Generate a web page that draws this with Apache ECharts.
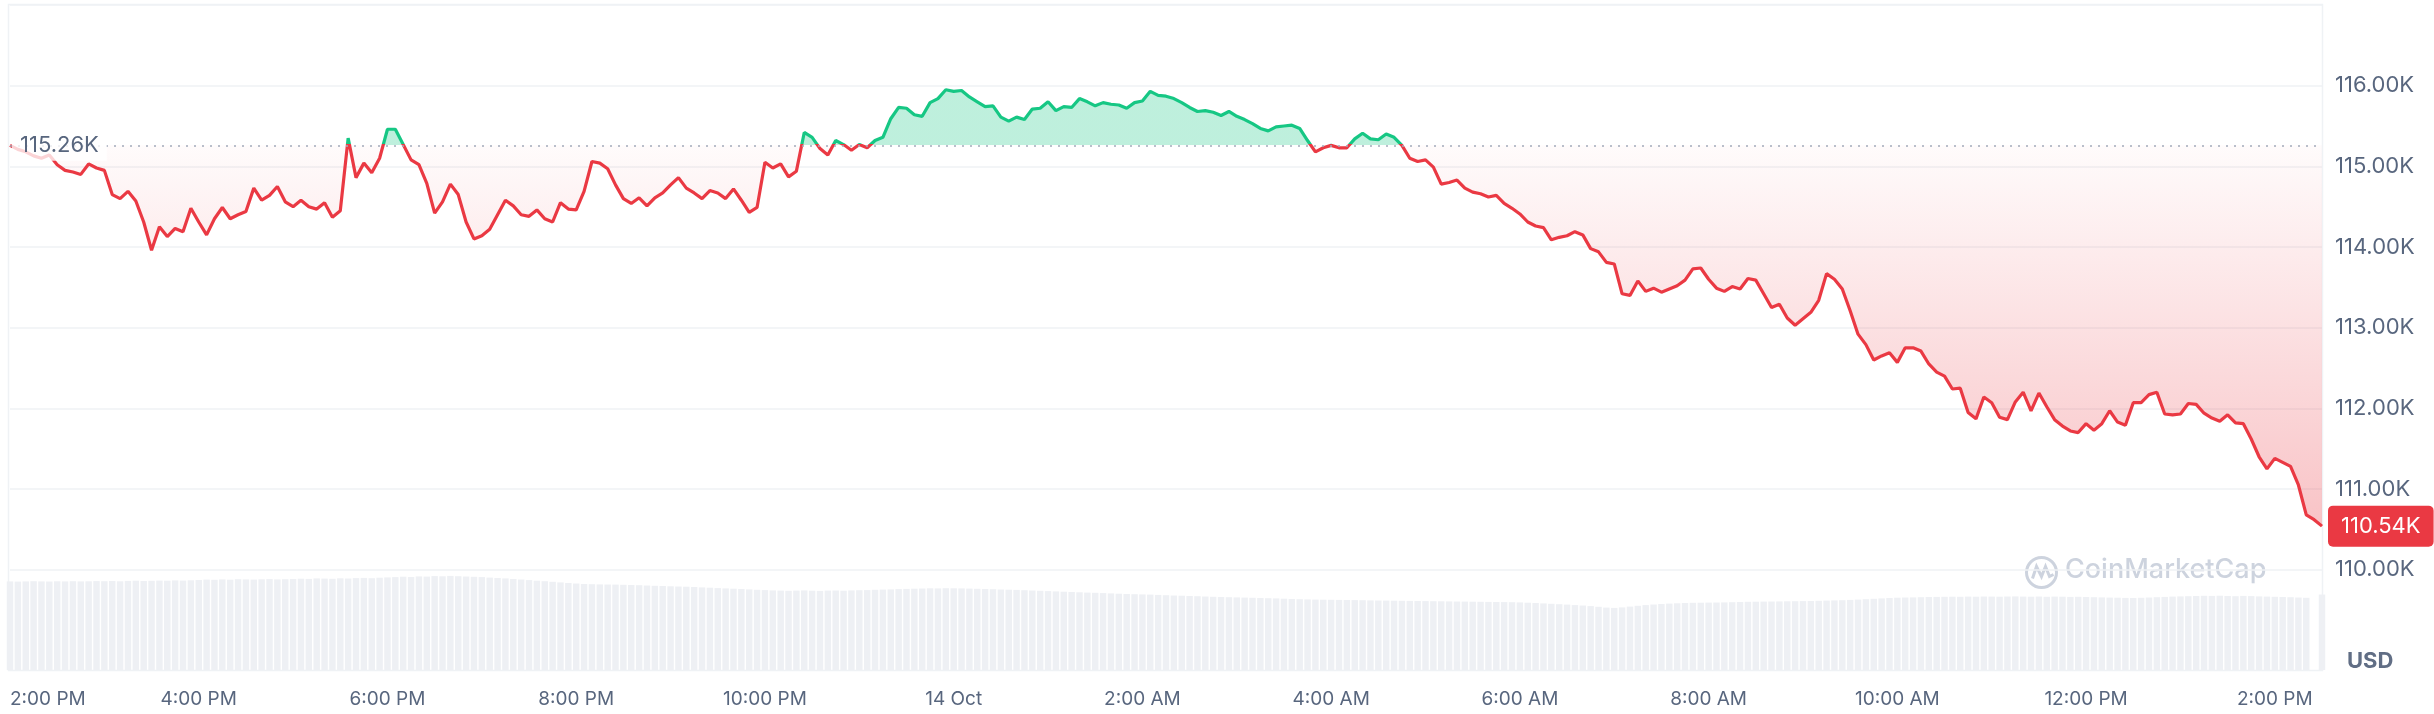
<!DOCTYPE html>
<html><head><meta charset="utf-8">
<script src="https://cdn.jsdelivr.net/npm/echarts@6/dist/echarts.min.js"></script>
<style>html,body{margin:0;padding:0;background:#fff;}#c{width:2434px;height:714px;}</style>
</head><body><div id="c"></div>
<script>
// ---- data (price in thousands USD, 5-minute steps from 13 Oct 2:00 PM) ----
const startHour = 14;          // 2:00 PM
const stepMinutes = 5;
const basePrice = 115.26;      // price 24h ago (reference line)
const tickLabels = ['2:00 PM','4:00 PM','6:00 PM','8:00 PM','10:00 PM','14 Oct','2:00 AM','4:00 AM','6:00 AM','8:00 AM','10:00 AM','12:00 PM','2:00 PM'];
const prices = [
115.26,115.21,115.18,115.13,115.10,115.14,115.02,114.95,114.93,114.90,
115.03,114.98,114.95,114.65,114.60,114.69,114.57,114.31,113.96,114.25,
114.13,114.23,114.19,114.48,114.31,114.15,114.35,114.49,114.35,114.40,
114.44,114.73,114.58,114.64,114.75,114.56,114.50,114.58,114.50,114.47,
114.55,114.37,114.45,115.35,114.86,115.04,114.92,115.10,115.46,115.46,
115.27,115.08,115.02,114.79,114.42,114.56,114.78,114.65,114.31,114.10,
114.14,114.22,114.40,114.58,114.51,114.40,114.38,114.46,114.35,114.31,
114.55,114.47,114.46,114.69,115.06,115.04,114.97,114.77,114.60,114.54,
114.61,114.51,114.61,114.67,114.77,114.86,114.73,114.67,114.60,114.70,
114.67,114.60,114.72,114.58,114.43,114.49,115.05,114.98,115.03,114.87,
114.94,115.42,115.36,115.22,115.14,115.32,115.27,115.20,115.27,115.23,
115.32,115.36,115.59,115.73,115.72,115.64,115.62,115.79,115.84,115.95,
115.93,115.94,115.86,115.80,115.74,115.75,115.61,115.56,115.61,115.58,
115.71,115.72,115.80,115.69,115.74,115.73,115.84,115.80,115.75,115.79,
115.77,115.76,115.72,115.79,115.81,115.93,115.88,115.87,115.84,115.79,
115.73,115.68,115.69,115.67,115.63,115.68,115.62,115.58,115.53,115.47,
115.44,115.49,115.50,115.51,115.47,115.32,115.18,115.23,115.26,115.23,
115.23,115.34,115.41,115.34,115.33,115.40,115.36,115.26,115.10,115.06,
115.08,114.99,114.78,114.80,114.83,114.73,114.68,114.66,114.62,114.64,
114.54,114.48,114.41,114.31,114.26,114.24,114.09,114.12,114.14,114.19,
114.15,113.98,113.94,113.81,113.79,113.42,113.40,113.58,113.45,113.49,
113.44,113.48,113.52,113.59,113.73,113.74,113.60,113.49,113.45,113.51,
113.48,113.61,113.59,113.42,113.25,113.29,113.12,113.03,113.11,113.19,
113.34,113.67,113.60,113.48,113.21,112.92,112.79,112.60,112.65,112.69,
112.57,112.75,112.75,112.71,112.55,112.45,112.40,112.24,112.25,111.95,
111.87,112.14,112.07,111.89,111.86,112.08,112.20,111.97,112.19,112.02,
111.86,111.78,111.72,111.70,111.81,111.73,111.81,111.97,111.83,111.79,
112.07,112.07,112.17,112.20,111.93,111.92,111.93,112.06,112.05,111.94,
111.88,111.84,111.92,111.82,111.81,111.62,111.40,111.25,111.38,111.33,
111.28,111.05,110.68,110.62,110.54];
// 24h volume (billions USD), one per 5-minute step ('-' = no bar)
const volumes = [
88.6,88.4,88.6,88.8,88.6,88.5,88.7,88.6,88.8,88.6,88.7,88.9,
88.8,89.0,88.7,89.1,89.3,89.0,89.2,89.4,89.3,89.6,89.4,89.7,
90.0,90.4,90.2,90.6,90.3,90.8,90.6,90.4,90.7,90.9,90.6,90.8,
91.0,91.3,91.1,91.6,91.4,91.2,91.7,91.5,91.9,92.1,91.8,92.3,
92.6,92.9,93.3,93.0,93.6,93.4,93.9,93.7,94.1,93.8,93.5,93.2,
92.9,92.4,92.0,91.6,91.0,90.5,89.9,89.3,88.8,88.2,87.6,87.0,
86.5,86.0,85.8,85.6,85.5,85.4,85.2,85.0,84.8,84.5,84.2,84.0,
83.7,83.5,83.3,83.0,82.6,82.3,81.9,81.6,81.3,81.0,80.6,80.2,
79.9,79.6,79.4,79.2,79.4,79.6,79.3,79.1,79.4,79.5,79.3,79.6,
79.8,79.9,80.2,80.4,80.6,80.9,81.1,81.3,81.5,81.7,81.6,81.8,
81.7,81.6,81.4,81.2,81.0,80.8,80.5,80.3,80.1,79.8,79.5,79.2,
78.9,78.6,78.3,78.0,77.7,77.4,77.2,76.9,76.6,76.3,76.0,75.8,
75.6,75.4,75.1,74.8,74.5,74.3,74.0,73.8,73.5,73.2,73.0,72.8,
72.6,72.4,72.2,72.0,71.8,71.6,71.3,71.0,70.8,70.6,70.4,70.3,
70.2,70.1,70.0,69.9,69.8,69.6,69.5,69.4,69.3,69.2,69.1,69.0,
68.9,68.8,68.7,68.6,68.5,68.4,68.3,68.2,68.1,68.0,67.9,67.8,
67.6,67.3,67.0,66.6,66.2,65.8,65.4,64.9,64.5,63.9,63.2,62.4,
62.1,62.6,63.4,64.2,64.9,65.5,66.0,66.4,66.7,67.0,67.2,67.3,
67.4,67.5,67.6,67.8,68.0,68.2,68.3,68.4,68.5,68.6,68.7,68.8,
68.9,69.0,69.2,69.4,69.6,69.8,70.1,70.4,70.8,71.2,71.6,72.0,
72.3,72.5,72.6,72.8,73.0,73.1,73.2,73.3,73.2,73.4,73.3,73.5,
73.4,73.3,73.5,73.6,73.4,73.3,73.5,73.2,73.4,73.3,73.1,73.2,
73.0,72.8,72.6,72.4,72.3,72.1,72.0,72.2,72.5,72.8,73.1,73.4,
73.6,73.8,74.0,74.2,74.1,74.3,74.0,73.8,74.1,73.9,73.6,73.4,
73.2,73.0,72.8,72.5,72.2,'-',75.5];
</script>
<script>
(function () {
const cats = prices.map((_, i) => {
  const m = startHour * 60 + i * stepMinutes;
  const h = Math.floor(m / 60) % 24, mm = m % 60;
  return String(h).padStart(2, '0') + ':' + String(mm).padStart(2, '0');
});
const ticksEvery = 120 / stepMinutes;
const lastPrice = prices[prices.length - 1];
const maxP = Math.max(...prices), minP = Math.min(...prices);
// area polygon spans [min(base,data), max(base,data)]; line spans [minP,maxP]
const hiA = Math.max(basePrice, maxP), loA = Math.min(basePrice, minP);
const tArea = (hiA - basePrice) / (hiA - loA);
const tLine = (maxP - basePrice) / (maxP - minP);
const GREEN = '#16c784', RED = '#ea3943';
const FONT = 'Inter';
const TXT = '#58667e';
const GRIDC = '#eff2f5';
const fmtK = v => v.toFixed(2) + 'K';
const LG = echarts.graphic.LinearGradient;

const chart = echarts.init(document.getElementById('c'), null, {renderer: 'canvas'});
chart.setOption({
  animation: false,
  backgroundColor: '#fff',
  grid: [
    {left: 10, right: 112, top: 5, bottom: 144.3},
    {left: 10, right: 112, top: 575, bottom: 44},
    {left: 8.5, right: 111.5, top: 4.5, bottom: 43.5, show: true, borderColor: GRIDC, borderWidth: 1.5, backgroundColor: 'transparent', z: 0}
  ],
  xAxis: [
    {type: 'category', gridIndex: 0, data: cats, boundaryGap: false, axisLine: {show: false}, axisTick: {show: false}, axisLabel: {show: false}, splitLine: {show: false}},
    {type: 'category', gridIndex: 1, data: cats, boundaryGap: false, axisLine: {show: false}, axisTick: {show: false}, splitLine: {show: false},
      axisLabel: {
        interval: (idx) => idx % ticksEvery === 0,
        formatter: (v, idx) => tickLabels[idx / ticksEvery] || '',
        color: TXT, fontSize: 19, fontFamily: FONT, margin: 20, alignMinLabel: 'left'
      }},
    {type: 'category', gridIndex: 2, show: false, data: ['']}
  ],
  yAxis: [
    {type: 'value', gridIndex: 0, position: 'right', min: 110, max: 117, interval: 1,
      axisLine: {show: false}, axisTick: {show: false},
      splitLine: {lineStyle: {color: GRIDC, width: 1.5}},
      axisLabel: {formatter: fmtK, color: TXT, fontSize: 22, fontFamily: FONT, margin: 13, showMaxLabel: false}},
    {type: 'value', gridIndex: 1, min: 0, max: 95, show: false, splitLine: {show: false}},
    {type: 'value', gridIndex: 2, show: false}
  ],
  series: [
    {
      type: 'line', xAxisIndex: 0, yAxisIndex: 0, data: prices, symbol: 'none', z: 2,
      lineStyle: {width: 3.2, color: new LG(0, 0, 0, 1, [
        {offset: 0, color: GREEN}, {offset: tLine, color: GREEN},
        {offset: tLine, color: RED}, {offset: 1, color: RED}
      ])},
      areaStyle: {
        origin: basePrice,
        color: new LG(0, 0, 0, 1, [
          {offset: 0, color: 'rgba(22,199,132,0.28)'},
          {offset: tArea, color: 'rgba(22,199,132,0.28)'},
          {offset: tArea, color: 'rgba(234,57,67,0.02)'},
          {offset: 1, color: 'rgba(234,57,67,0.30)'}
        ]),
        opacity: 1
      },
      markLine: {
        silent: true, symbol: 'none', animation: false, z: 10,
        data: [
          {yAxis: basePrice,
            lineStyle: {color: '#a3abba', type: [2, 6], width: 1.6},
            label: {position: 'insideStart', distance: 2, formatter: () => fmtK(basePrice),
              color: TXT, fontSize: 22, fontFamily: FONT, backgroundColor: 'rgba(255,255,255,0.78)', padding: [5, 8, 4, 8]}},
          {yAxis: lastPrice,
            lineStyle: {width: 0, color: 'rgba(0,0,0,0)'},
            label: {show: true, position: 'end', distance: 6, formatter: () => fmtK(lastPrice),
              color: '#fff', fontSize: 22, fontFamily: FONT, backgroundColor: RED, borderRadius: 5, padding: [10, 13, 9, 13]}}
        ]
      }
    },
    {
      type: 'bar', xAxisIndex: 1, yAxisIndex: 1, data: volumes, barCategoryGap: '18%',
      itemStyle: {color: '#eef0f4'}, silent: true
    }
  ],
  graphic: [
    {type: 'group', left: 2024, top: 555, children: [
      {type: 'circle', shape: {cx: 17, cy: 18, r: 15}, style: {fill: 'none', stroke: '#cdd3de', lineWidth: 3}},
      {type: 'polyline', shape: {points: [[8, 24], [12, 12], [17, 22], [21, 12], [25, 22], [29, 20]]}, style: {fill: 'none', stroke: '#cdd3de', lineWidth: 3}}
    ]},
    {type: 'text', left: 2065, top: 556, style: {text: 'CoinMarketCap', fill: '#cdd3de', font: '500 27px Inter'}},
    {type: 'text', left: 2347, top: 650, style: {text: 'USD', fill: '#616e85', font: '700 22px Inter'}}
  ]
});
})();
</script></body></html>
